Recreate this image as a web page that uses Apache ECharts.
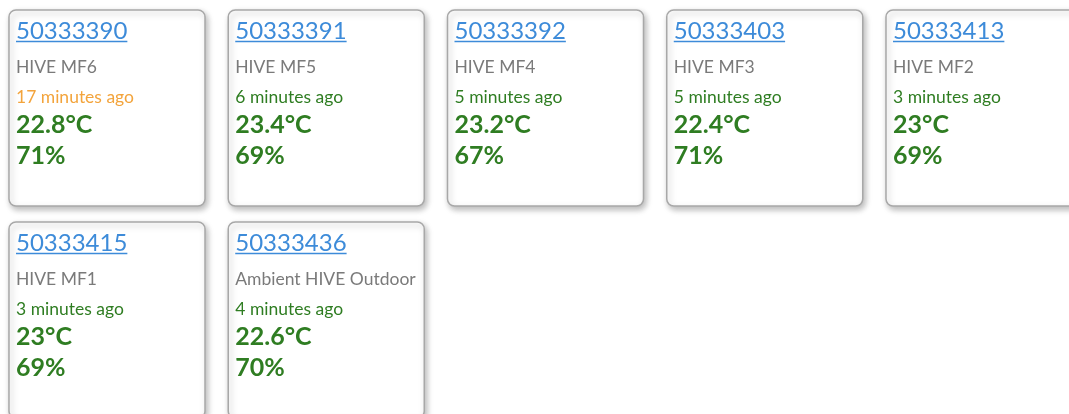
<!DOCTYPE html>
<html>
<head>
<meta charset="utf-8">
<script src="https://cdn.jsdelivr.net/npm/echarts@6/dist/echarts.min.js"></script>
<style>
html,body{margin:0;padding:0;background:#fff;}
#chart{width:1069px;height:414px;}
</style>
</head>
<body>
<div id="chart"></div>
<script>
// ---- data ----
const sensorIds = ['50333390','50333391','50333392','50333403','50333413','50333415','50333436'];
const sensorNames = ['HIVE MF6','HIVE MF5','HIVE MF4','HIVE MF3','HIVE MF2','HIVE MF1','Ambient HIVE Outdoor'];
const minutesAgo = [17, 6, 5, 5, 3, 3, 4];
const temperatures = [22.8, 23.4, 23.2, 22.4, 23, 23, 22.6];
const humidities = [71, 69, 67, 71, 69, 69, 70];
const cardsPerRow = 5;

const FONT = 'Lato, "Noto Sans", sans-serif';
const BLUE = '#3d8bd9', GRAY = '#7a7a7a', GREEN = '#2f7d22', ORANGE = '#f3a43c';

const seriesData = sensorIds.map((id, i) => [i % cardsPerRow, Math.floor(i / cardsPerRow), i]);

const measureCtx = document.createElement('canvas').getContext('2d');
function textWidth(t, font) { measureCtx.font = font; return measureCtx.measureText(t).width; }

const chart = echarts.init(document.getElementById('chart'), null, {renderer: 'canvas'});
const colPitch = 219.25, rowPitch = 212;
const xMin = -9 / colPitch, yMin = -10 / rowPitch;

chart.setOption({
  animation: false,
  grid: {left: 0, right: 0, top: 0, bottom: 0},
  xAxis: {type: 'value', min: xMin, max: xMin + 1069 / colPitch, show: false},
  yAxis: {type: 'value', inverse: true, min: yMin, max: yMin + 414 / rowPitch, show: false},
  series: [{
    type: 'custom',
    clip: false,
    data: seriesData,
    renderItem: function (params, api) {
      const i = api.value(2);
      const p = api.coord([api.value(0), api.value(1)]);
      const unit = api.size([1, 1]);
      const w = unit[0] * 196 / colPitch, h = unit[1] * 196 / rowPitch;
      const x = p[0], y = p[1];
      const stale = minutesAgo[i] > 10;
      const linkFont = '24px ' + FONT;
      const lw = textWidth(sensorIds[i], linkFont);
      const t = temperatures[i];
      const tText = (Number.isInteger(t) ? String(t) : t.toFixed(1)) + '°C';
      return {
        type: 'group',
        children: [
          {type: 'rect', shape: {x: x, y: y, width: w, height: h, r: 7},
           style: {fill: '#fff', stroke: '#a8a8a8', lineWidth: 1.5,
                   shadowBlur: 6, shadowOffsetX: 2, shadowOffsetY: 3, shadowColor: 'rgba(0,0,0,0.28)'}},
          {type: 'text', style: {text: sensorIds[i], x: x + 7, y: y + 21, font: linkFont,
                   fill: BLUE, textVerticalAlign: 'middle'}},
          {type: 'line', shape: {x1: x + 7, y1: y + 31.5, x2: x + 7 + lw, y2: y + 31.5},
           style: {stroke: BLUE, lineWidth: 1.3}},
          {type: 'text', style: {text: sensorNames[i], x: x + 7, y: y + 57, font: '17.5px ' + FONT,
                   fill: GRAY, textVerticalAlign: 'middle'}},
          {type: 'text', style: {text: minutesAgo[i] + ' minutes ago', x: x + 7, y: y + 87, font: '17.5px ' + FONT,
                   fill: stale ? ORANGE : GREEN, textVerticalAlign: 'middle'}},
          {type: 'text', style: {text: tText, x: x + 7, y: y + 115, font: 'bold 25px ' + FONT,
                   fill: GREEN, textVerticalAlign: 'middle'}},
          {type: 'text', style: {text: humidities[i] + '%', x: x + 7, y: y + 146, font: 'bold 25px ' + FONT,
                   fill: GREEN, textVerticalAlign: 'middle'}}
        ]
      };
    }
  }]
});
</script>
</body>
</html>
